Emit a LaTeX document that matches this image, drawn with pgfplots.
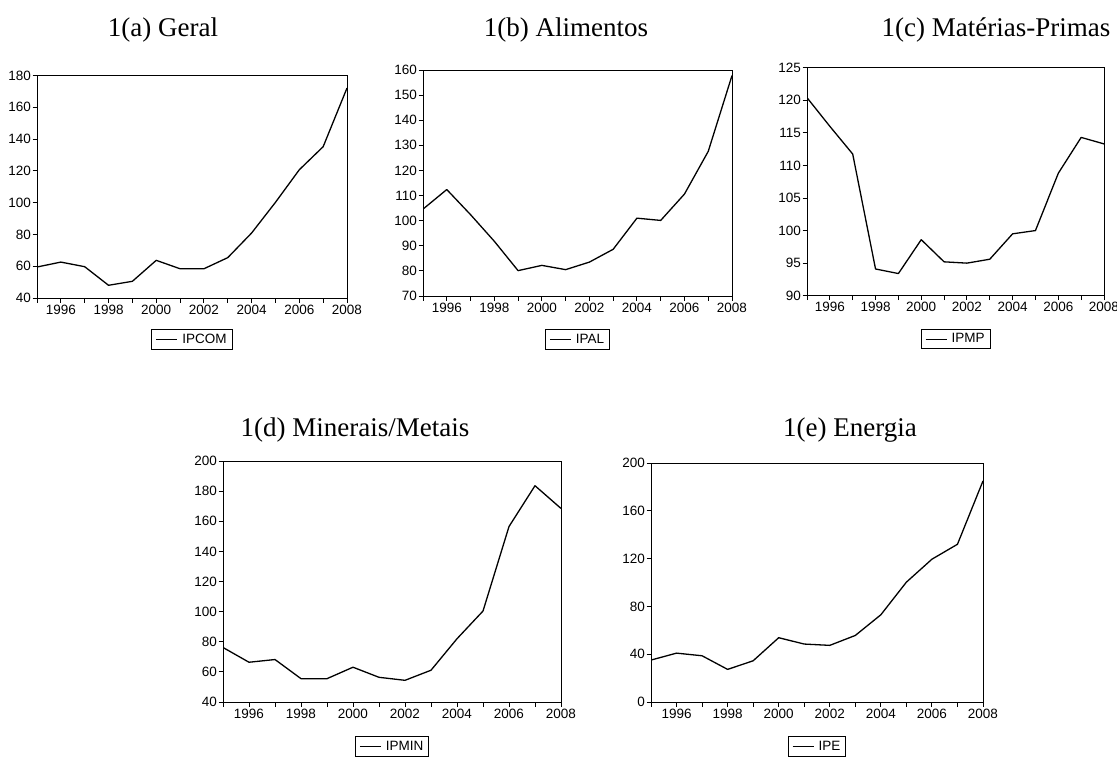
\documentclass[border=0pt]{standalone}
\usepackage{fontspec}
\setmainfont{Liberation Serif}
\newfontfamily\arial{Liberation Sans}
\usepackage{pgfplots}
\pgfplotsset{compat=1.18}
\pgfplotsset{
  mystyle/.style={
    scale only axis,
    xmin=1995, xmax=2008,
    xtick={1995,...,2008},
    xticklabels={,1996,,1998,,2000,,2002,,2004,,2006,,2008},
    xtick pos=bottom, ytick pos=left,
    tick align=outside,
    major tick length=4.5pt,
    tick style={black, line width=0.9pt},
    axis line style={black, line width=1pt},
    ticklabel style={font=\arial\fontsize{13.5}{15}\selectfont},
    yticklabel style={inner sep=1.5pt},
    xticklabel style={inner sep=2pt},
    /pgf/number format/assume math mode=true,
    /pgf/number format/1000 sep={},
    legend style={at={(0.5,0)}, anchor=north, draw=black, line width=0.9pt,
      font=\arial\fontsize{13.5}{15}\selectfont, inner xsep=4pt, inner ysep=3pt,
      nodes={inner sep=1.5pt},
      /tikz/every odd column/.style={column sep=3pt}},
    legend image code/.code={\draw[black, line width=1pt] (0pt,0pt) -- (21pt,0pt);},
  },
  ln/.style={black, line width=1.3pt, mark=none, line join=round}
}
\begin{document}
\begin{tikzpicture}
\path[use as bounding box] (0pt,0pt) rectangle (1117pt,-758pt);
\tikzset{ttl/.style={anchor=base, font=\fontsize{27}{30}\selectfont}}
\node[ttl] at (163pt,-36pt) {1(a) Geral};
\node[ttl] at (566pt,-36pt) {1(b) Alimentos};
\node[ttl] at (996pt,-36pt) {1(c) Matérias-Primas};
\node[ttl] at (355pt,-436pt) {1(d) Minerais/Metais};
\node[ttl] at (850pt,-436pt) {1(e) Energia};

% (a)
\begin{axis}[mystyle, at={(37pt,-298pt)}, anchor=south west, width=310pt, height=222.5pt,
  ymin=40, ymax=180, ytick={40,60,...,180}, legend style={yshift=-31pt}]
\addplot[ln] coordinates {(1995,59.5)(1996,62.6)(1997,59.7)(1998,48.0)(1999,50.5)(2000,63.7)(2001,58.4)(2002,58.4)(2003,65.4)(2004,80.9)(2005,100.2)(2006,120.7)(2007,135.2)(2008,172.1)};
\addlegendentry{IPCOM}
\end{axis}

% (b)
\begin{axis}[mystyle, at={(423pt,-296pt)}, anchor=south west, width=309pt, height=226pt,
  ymin=70, ymax=160, ytick={70,80,...,160}, legend style={yshift=-33pt}]
\addplot[ln] coordinates {(1995,104.6)(1996,112.4)(1997,102.4)(1998,91.8)(1999,80.1)(2000,82.2)(2001,80.5)(2002,83.5)(2003,88.6)(2004,101.0)(2005,100.1)(2006,110.6)(2007,127.6)(2008,157.8)};
\addlegendentry{IPAL}
\end{axis}

% (c)
\begin{axis}[mystyle, at={(807pt,-295.7pt)}, anchor=south west, width=297pt, height=228pt,
  ymin=90, ymax=125, ytick={90,95,...,125}, legend style={yshift=-33pt}]
\addplot[ln] coordinates {(1995,120.4)(1996,116.0)(1997,111.75)(1998,94.1)(1999,93.4)(2000,98.6)(2001,95.2)(2002,95.0)(2003,95.6)(2004,99.5)(2005,100.0)(2006,108.8)(2007,114.3)(2008,113.3)};
\addlegendentry{IPMP}
\end{axis}

% (d)
\begin{axis}[mystyle, at={(223pt,-702pt)}, anchor=south west, width=338pt, height=241pt,
  ymin=40, ymax=200, ytick={40,60,...,200}, legend style={yshift=-34pt}]
\addplot[ln] coordinates {(1995,76.2)(1996,66.4)(1997,68.2)(1998,55.5)(1999,55.5)(2000,63.1)(2001,56.4)(2002,54.4)(2003,61.1)(2004,82.0)(2005,100.4)(2006,156.5)(2007,183.6)(2008,168.5)};
\addlegendentry{IPMIN}
\end{axis}

% (e)
\begin{axis}[mystyle, at={(651pt,-702pt)}, anchor=south west, width=332pt, height=239pt,
  ymin=0, ymax=200, ytick={0,40,...,200}, legend style={yshift=-34pt}]
\addplot[ln] coordinates {(1995,35.1)(1996,40.9)(1997,38.7)(1998,27.3)(1999,34.5)(2000,53.8)(2001,48.5)(2002,47.4)(2003,55.7)(2004,73.0)(2005,100.3)(2006,119.5)(2007,132.0)(2008,185.0)};
\addlegendentry{IPE}
\end{axis}
\end{tikzpicture}
\end{document}
